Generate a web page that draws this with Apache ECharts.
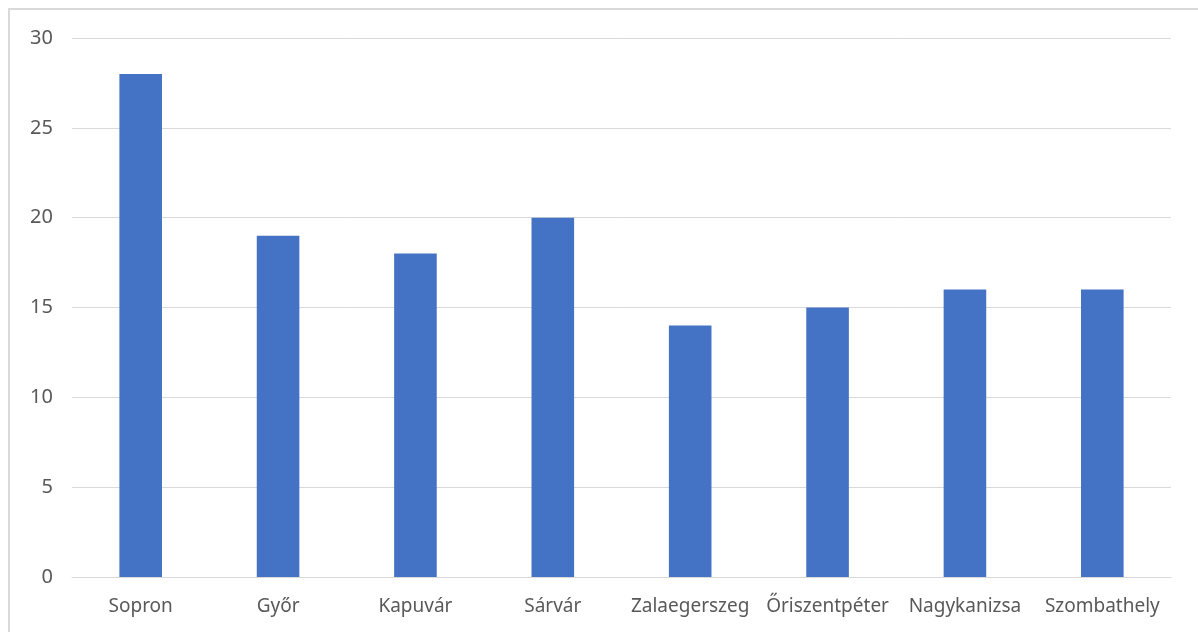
<!DOCTYPE html>
<html><head><meta charset="utf-8">
<script src="https://cdn.jsdelivr.net/npm/echarts@6/dist/echarts.min.js"></script>
<style>html,body{margin:0;padding:0;background:#fff}#c{width:1198px;height:632px}</style>
</head><body><div id="c"></div>
<script>
const categories = ['Sopron','Győr','Kapuvár','Sárvár','Zalaegerszeg','Őriszentpéter','Nagykanizsa','Szombathely'];
const values = [28, 19, 18, 20, 14, 15, 16, 16];
const chart = echarts.init(document.getElementById('c'));
chart.setOption({
  animation: false,
  backgroundColor: '#fff',
  graphic: [{type:'rect', shape:{x:9,y:9,width:1300,height:700}, style:{fill:'none', stroke:'#d9d9d9', lineWidth:2}, silent:true}],
  grid: {left:72, right:27, top:38, bottom:55, containLabel:false},
  xAxis: {type:'category', data:categories,
    axisLine:{lineStyle:{color:'#d9d9d9', width:1}}, axisTick:{show:false},
    axisLabel:{interval:0, color:'#595959', fontSize:19, fontFamily:'Noto Sans', margin:20}},
  yAxis: {type:'value', min:0, max:30, interval:5,
    axisLine:{show:false}, axisTick:{show:false},
    splitLine:{lineStyle:{color:'#d9d9d9', width:1}},
    axisLabel:{color:'#595959', fontSize:20, fontFamily:'Noto Sans', margin:19}},
  series: [{type:'bar', data:values, barWidth:'31%', itemStyle:{color:'#4472c4'}}]
});
</script></body></html>
